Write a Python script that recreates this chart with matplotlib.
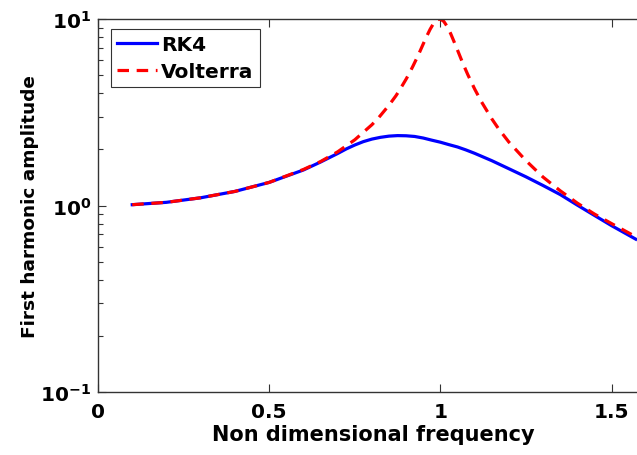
import matplotlib
matplotlib.use("Agg")
import matplotlib.pyplot as plt
from matplotlib.ticker import FixedLocator, LogLocator, NullFormatter

# frequency response, first harmonic
freq_volterra = [0.10, 0.20, 0.30, 0.40, 0.50, 0.60, 0.65, 0.70, 0.75, 0.80,
                 0.82, 0.85, 0.87, 0.88, 0.90, 0.91, 0.92, 0.93, 0.94, 0.95,
                 0.96, 0.97, 0.98, 0.99, 1.00, 1.01, 1.02, 1.03, 1.04, 1.05,
                 1.06, 1.07, 1.08, 1.10, 1.12, 1.15, 1.17, 1.20, 1.25, 1.30,
                 1.35, 1.40, 1.45, 1.50, 1.5708]
amp_volterra = [1.01, 1.04, 1.10, 1.19, 1.33, 1.56, 1.72, 1.94, 2.25, 2.71,
                2.96, 3.45, 3.87, 4.13, 4.76, 5.14, 5.59, 6.10, 6.68, 7.35,
                8.07, 8.80, 9.46, 9.90, 10.0, 9.71, 9.12, 8.36, 7.56, 6.82,
                6.14, 5.55, 5.04, 4.22, 3.60, 2.92, 2.58, 2.19, 1.74, 1.42,
                1.20, 1.03, 0.90, 0.80, 0.68]

freq_rk4 = [0.10, 0.20, 0.30, 0.40, 0.50, 0.60, 0.65, 0.70, 0.725, 0.75,
            0.775, 0.80, 0.825, 0.85, 0.875, 0.90, 0.925, 0.95, 0.975, 1.00,
            1.025, 1.05, 1.075, 1.10, 1.15, 1.20, 1.25, 1.30, 1.35, 1.40,
            1.45, 1.50, 1.5708]
amp_rk4 = [1.01, 1.04, 1.10, 1.19, 1.33, 1.55, 1.71, 1.90, 2.01, 2.11,
           2.20, 2.27, 2.32, 2.355, 2.37, 2.365, 2.345, 2.30, 2.24, 2.185,
           2.12, 2.06, 1.985, 1.905, 1.74, 1.575, 1.425, 1.28, 1.145, 1.005,
           0.885, 0.78, 0.66]

plt.rcParams['font.family'] = ['DejaVu Sans']
plt.rcParams['font.weight'] = 'bold'
plt.rcParams['mathtext.fontset'] = 'dejavusans'

fig = plt.figure(figsize=(6.37, 4.56), dpi=100)
# axes run past the right edge, so no right spine shows
ax = fig.add_axes([98 / 637, 63 / 456, 582 / 637, 373 / 456])

ax.plot(freq_rk4, amp_rk4, color='#0000ff', lw=2.3, label='RK4')
ax.plot(freq_volterra, amp_volterra, color='#ff0000', lw=2.3,
        dashes=(3.6, 2.4), label='Volterra')

ax.set_yscale('log')
ax.set_ylim(0.1, 10)
ax.set_xlim(0, 1.7)

ax.xaxis.set_major_locator(FixedLocator([0, 0.5, 1, 1.5]))
ax.set_xticklabels(['0', '0.5', '1', '1.5'])
ax.yaxis.set_major_locator(FixedLocator([0.1, 1, 10]))
ax.set_yticklabels([r'$\mathbf{10^{-1}}$', r'$\mathbf{10^{0}}$', r'$\mathbf{10^{1}}$'])
ax.yaxis.set_minor_locator(LogLocator(base=10, subs=range(2, 10)))
ax.yaxis.set_minor_formatter(NullFormatter())

ax.tick_params(which='both', direction='in', top=True, right=False,
               labelsize=14.5, width=0.8, color='#333333')
ax.tick_params(axis='x', pad=7)
ax.tick_params(axis='y', pad=5)
ax.tick_params(which='major', length=6)
ax.tick_params(which='minor', length=3.5)
for side in ('top', 'left', 'bottom'):
    ax.spines[side].set_linewidth(1.0)
    ax.spines[side].set_color('#333333')
ax.spines['right'].set_visible(False)

ax.set_xlabel('Non dimensional frequency', fontsize=15, fontweight='bold')
ax.set_ylabel('First harmonic amplitude', fontsize=13.3, fontweight='bold')
ax.xaxis.set_label_coords((373 - 98) / 582, -0.086)
ax.yaxis.set_label_coords(-0.102, (393 - 207) / 373)

leg = ax.legend(loc='upper left', bbox_to_anchor=(13 / 582, 1 - 10 / 373),
                fontsize=14.5, frameon=True, fancybox=False, handlelength=2.0,
                handletextpad=0.2, borderpad=0.3, labelspacing=0.38,
                borderaxespad=0)
leg.get_frame().set_edgecolor('black')
leg.get_frame().set_linewidth(0.8)

fig.savefig('out.png', dpi=100)
